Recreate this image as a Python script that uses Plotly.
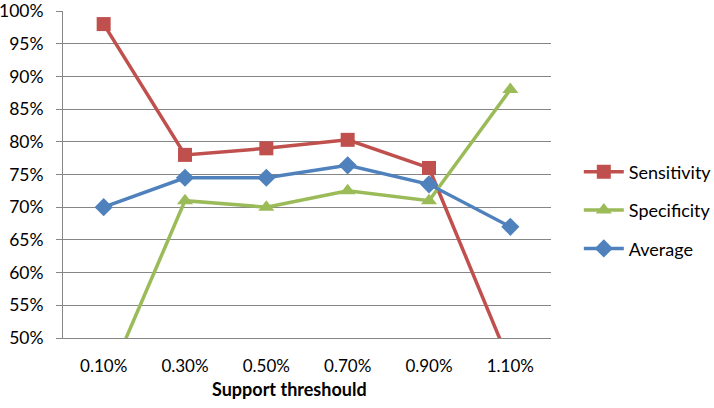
import plotly.graph_objects as go

categories = ["0.10%", "0.30%", "0.50%", "0.70%", "0.90%", "1.10%"]
sensitivity = [0.98, 0.78, 0.79, 0.803, 0.76, 0.46]
specificity = [0.42, 0.71, 0.70, 0.725, 0.71, 0.88]
average = [0.70, 0.745, 0.745, 0.764, 0.735, 0.67]
y_ticks = [0.50, 0.55, 0.60, 0.65, 0.70, 0.75, 0.80, 0.85, 0.90, 0.95, 1.00]

FONT = "Lato"
fig = go.Figure()
series = [
    ("Sensitivity", sensitivity, "#C0504D", "square", 14),
    ("Specificity", specificity, "#9BBB59", "triangle-up", 14),
    ("Average", average, "#4F81BD", "diamond", 14),
]
for name, vals, col, sym, sz in series:
    fig.add_trace(go.Scatter(
        x=categories, y=vals, name=name, mode="lines+markers",
        legendgroup=name,
        line=dict(color=col, width=3.5),
        marker=dict(symbol=sym, size=sz, color=col),
    ))

fig.update_layout(
    width=714, height=408,
    margin=dict(l=63, r=163, t=11, b=70, autoexpand=False),
    plot_bgcolor="white", paper_bgcolor="white",
    font=dict(family=FONT, size=17, color="#000"),
    legend=dict(x=1.057, y=0.39, yanchor="middle", xanchor="left",
                font=dict(size=18), tracegroupgap=12, itemwidth=40,
                bgcolor="rgba(0,0,0,0)"),
    xaxis=dict(
        type="category", showgrid=False, showline=True, linecolor="#868686",
        linewidth=1, ticks="outside", ticklen=13, tickcolor="rgba(0,0,0,0)",
        range=[-0.5, 5.5], tickfont=dict(size=17), automargin=False,
    ),
    yaxis=dict(
        range=[0.5, 1.0], tickvals=y_ticks, tickformat=".0%",
        showgrid=True, gridcolor="#868686", gridwidth=1,
        showline=True, linecolor="#868686", linewidth=1,
        ticks="outside", ticklen=6, tickcolor="#868686",
        ticklabelstandoff=9, zeroline=False, tickfont=dict(size=17.5),
        automargin=False,
    ),
    annotations=[dict(
        text="<b>Support threshould</b>", xref="paper", yref="paper",
        x=0.465, y=-0.115, yanchor="top", xanchor="center",
        showarrow=False, font=dict(size=18, family=FONT),
    )],
)
fig.write_html("out.html", config={"displayModeBar": False},
               post_script="document.body.style.margin='0';")
